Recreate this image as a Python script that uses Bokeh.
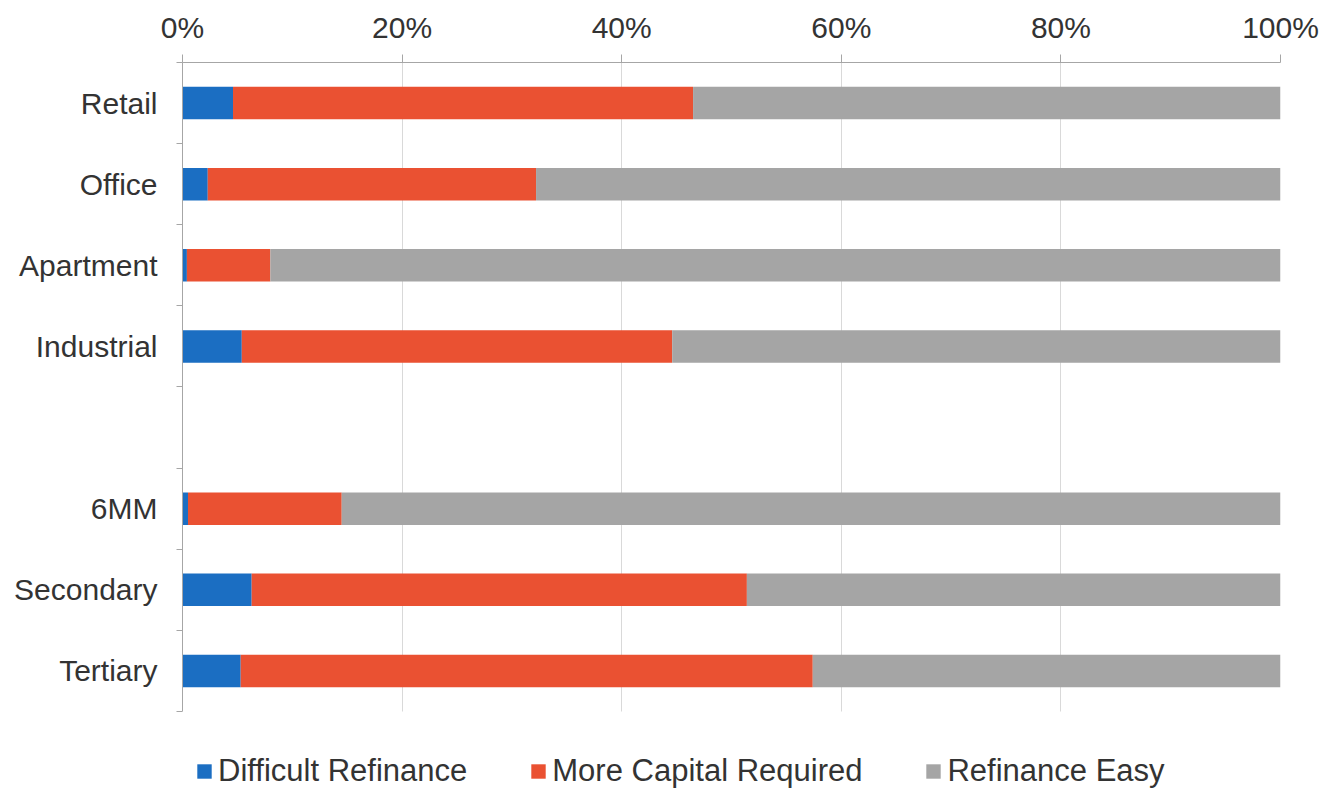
from bokeh.plotting import figure
from bokeh.models import FixedTicker, PrintfTickFormatter, Legend, LegendItem, ColumnDataSource, BoxAnnotation
from bokeh.embed import file_html
from bokeh.resources import INLINE

categories = ["Retail", "Office", "Apartment", "Industrial", "", "6MM", "Secondary", "Tertiary"]
difficult_refinance = [4.6, 2.3, 0.4, 5.4, 0.0, 0.5, 6.3, 5.3]
more_capital_required = [41.9, 29.9, 7.6, 39.2, 0.0, 14.0, 45.1, 52.1]
refinance_easy = [100 - a - b if (a + b) > 0 else 0.0 for a, b in zip(difficult_refinance, more_capital_required)]
x_ticks = [0, 20, 40, 60, 80, 100]

series = ["Difficult Refinance", "More Capital Required", "Refinance Easy"]
colors = ["#1B6EC2", "#EA5132", "#A5A5A5"]

n = len(categories)
ypos = [n - i - 0.5 for i in range(n)]

src = ColumnDataSource(dict(
    y=ypos,
    **{"Difficult Refinance": difficult_refinance,
       "More Capital Required": more_capital_required,
       "Refinance Easy": refinance_easy},
))

# extra room under the bars (in category units) to hold the legend inside the frame
legend_room = 0.9615

p = figure(width=1330, height=789, x_range=(0, 100), y_range=(-legend_room, n),
           x_axis_location="above", output_backend="svg", toolbar_location=None,
           min_border_left=182, min_border_right=50, min_border_top=62, min_border_bottom=0)
p.outline_line_color = None
p.background_fill_color = "white"

renderers = p.hbar_stack(series, y="y", height=0.4, color=colors, source=src, line_color=None)

# x axis (top)
xa = p.xaxis[0]
xa.ticker = FixedTicker(ticks=x_ticks)
xa.formatter = PrintfTickFormatter(format="%d%%")
xa.axis_line_color = "#A6A6A6"
xa.major_tick_line_color = "#A6A6A6"
xa.major_tick_out = 8
xa.major_tick_in = 0
xa.minor_tick_line_color = None
xa.major_label_text_font = "Liberation Sans"
xa.major_label_text_font_size = "30px"
xa.major_label_text_color = "#333333"
xa.major_label_standoff = 11

# y axis (left)
ya = p.yaxis[0]
ya.ticker = FixedTicker(ticks=ypos, minor_ticks=list(range(0, n + 1)))
ya.major_label_overrides = {y: c for y, c in zip(ypos, categories)}
ya.bounds = (0, n)
ya.axis_line_color = "#A6A6A6"
ya.major_tick_line_color = None
ya.major_tick_out = 0
ya.major_tick_in = 0
ya.minor_tick_line_color = "#A6A6A6"
ya.minor_tick_out = 6
ya.minor_tick_in = 0
ya.major_label_text_font = "Liberation Sans"
ya.major_label_text_font_size = "30px"
ya.major_label_text_color = "#333333"
ya.major_label_standoff = 19

p.xgrid.grid_line_color = "#D9D9D9"
p.xgrid.grid_line_width = 1
p.ygrid.grid_line_color = None

# white mask so grid lines stop at the bottom of the category area
mask = BoxAnnotation(top=0, fill_color="white", fill_alpha=1, line_color=None)
p.add_layout(mask)

legend = Legend(items=[LegendItem(label=s, renderers=[r]) for s, r in zip(series, renderers)],
                orientation="horizontal", location=(13, 0),
                glyph_width=18, glyph_height=18, label_standoff=5, spacing=62,
                label_text_font="Liberation Sans", label_text_font_size="31px",
                label_text_color="#333333", border_line_color=None,
                background_fill_alpha=0, padding=0, margin=0)
p.add_layout(legend, "center")

open("out.html", "w").write(file_html(p, INLINE))
